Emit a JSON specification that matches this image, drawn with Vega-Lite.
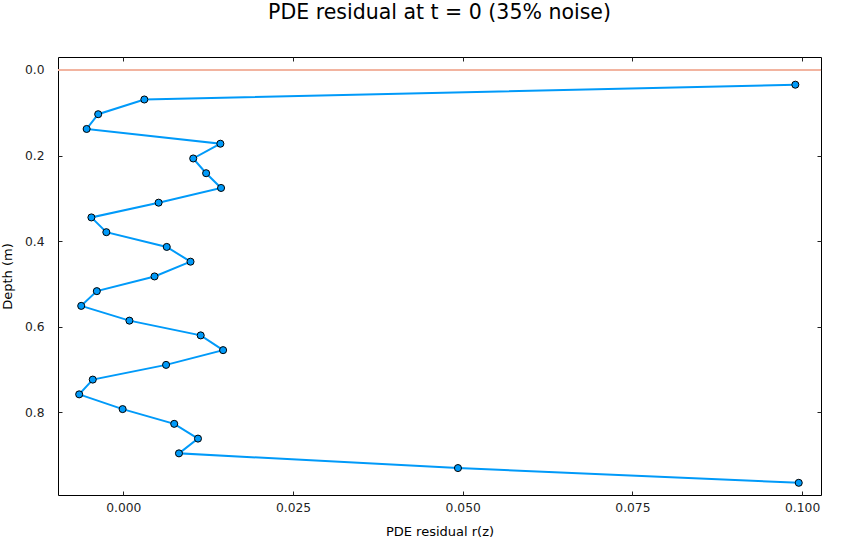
{
  "$schema": "https://vega.github.io/schema/vega-lite/v6.json",
  "autosize": {"type": "none"},
  "width": 763,
  "height": 438,
  "padding": {"left": 58, "top": 57, "right": 39, "bottom": 45},
  "background": "white",
  "config": {
    "font": "DejaVu Sans",
    "view": {"stroke": "black", "strokeWidth": 1},
    "axis": {"grid": false, "domain": false, "tickColor": "#222", "labelColor": "#222", "labelFontSize": 12.3, "titleFontSize": 13, "titleFontWeight": "normal", "titleColor": "black"}
  },
  "title": {"text": "PDE residual at t = 0 (35% noise)", "fontSize": 20.5, "fontWeight": "normal", "anchor": "middle", "offset": 33, "color": "black"},
  "datasets": {
    "resid": [
      {"depth": 0.0344, "r": 0.0990},
      {"depth": 0.0690, "r": 0.0031},
      {"depth": 0.1034, "r": -0.0037},
      {"depth": 0.1379, "r": -0.0054},
      {"depth": 0.1724, "r": 0.0143},
      {"depth": 0.2069, "r": 0.0103},
      {"depth": 0.2414, "r": 0.0122},
      {"depth": 0.2759, "r": 0.0144},
      {"depth": 0.3103, "r": 0.0052},
      {"depth": 0.3448, "r": -0.0047},
      {"depth": 0.3793, "r": -0.0025},
      {"depth": 0.4138, "r": 0.0064},
      {"depth": 0.4483, "r": 0.0099},
      {"depth": 0.4828, "r": 0.0046},
      {"depth": 0.5172, "r": -0.0039},
      {"depth": 0.5517, "r": -0.0062},
      {"depth": 0.5862, "r": 0.0009},
      {"depth": 0.6207, "r": 0.0114},
      {"depth": 0.6552, "r": 0.0147},
      {"depth": 0.6897, "r": 0.0063},
      {"depth": 0.7241, "r": -0.0045},
      {"depth": 0.7586, "r": -0.0065},
      {"depth": 0.7931, "r": -0.0001},
      {"depth": 0.8276, "r": 0.0075},
      {"depth": 0.8621, "r": 0.0110},
      {"depth": 0.8966, "r": 0.0082},
      {"depth": 0.9310, "r": 0.0493},
      {"depth": 0.9655, "r": 0.0995}
    ]
  },
  "data": {"name": "resid"},
  "resolve": {"axis": {"x": "independent", "y": "independent"}},
  "layer": [
    {
      "mark": {"type": "rule", "color": "#f2b5a0", "strokeWidth": 1.5},
      "encoding": {
        "y": {"datum": 0, "type": "quantitative", "scale": {"domain": [-0.0304, 0.994], "reverse": true, "nice": false, "zero": false}, "axis": null}
      }
    },
    {
      "mark": {"type": "line", "color": "#009af9", "strokeWidth": 2, "point": {"filled": true, "fill": "#009af9", "stroke": "black", "strokeWidth": 1, "size": 50, "opacity": 1}},
      "encoding": {
        "x": {"field": "r", "type": "quantitative", "scale": {"domain": [-0.00962, 0.10278], "nice": false, "zero": false},
              "axis": {"title": "PDE residual r(z)", "values": [0, 0.025, 0.05, 0.075, 0.1], "format": ".3f", "tickSize": -4, "labelPadding": 10, "titlePadding": 12}},
        "y": {"field": "depth", "type": "quantitative", "scale": {"domain": [-0.0304, 0.994], "reverse": true, "nice": false, "zero": false},
              "axis": {"title": "Depth (m)", "values": [0, 0.2, 0.4, 0.6, 0.8], "format": ".1f", "tickSize": -4, "labelPadding": 18, "titlePadding": 10}},
        "order": {"field": "depth", "type": "quantitative"}
      }
    },
    {
      "mark": {"type": "point", "opacity": 0},
      "encoding": {
        "x": {"field": "r", "type": "quantitative", "scale": {"domain": [-0.00962, 0.10278], "nice": false, "zero": false},
              "axis": {"orient": "top", "title": null, "labels": false, "values": [0, 0.025, 0.05, 0.075, 0.1], "tickSize": -4}},
        "y": {"field": "depth", "type": "quantitative", "scale": {"domain": [-0.0304, 0.994], "reverse": true, "nice": false, "zero": false},
              "axis": {"orient": "right", "title": null, "labels": false, "values": [0, 0.2, 0.4, 0.6, 0.8], "tickSize": -4}}
      }
    }
  ]
}
